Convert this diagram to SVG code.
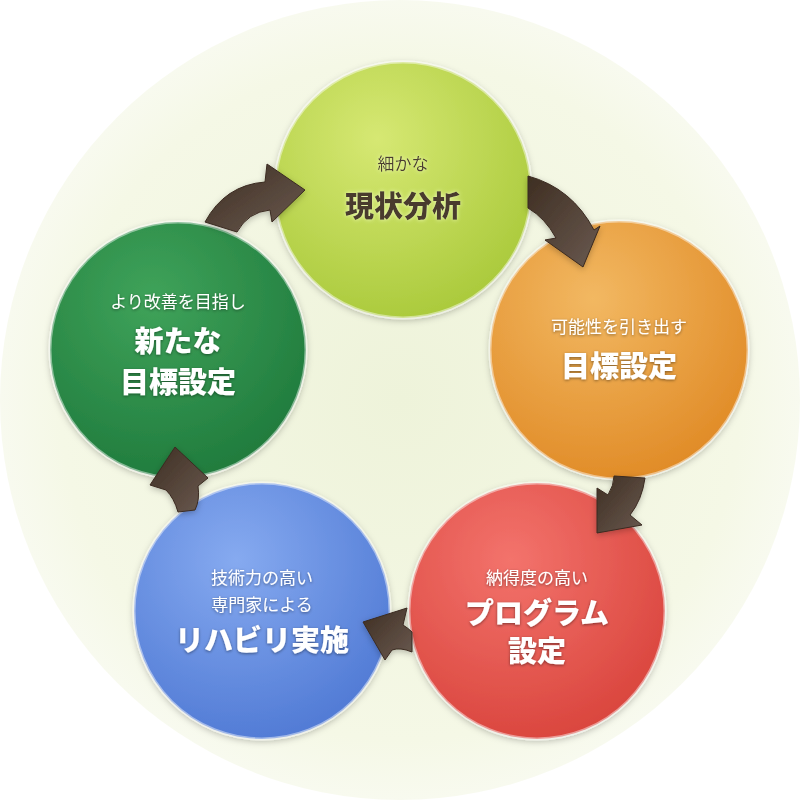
<svg xmlns="http://www.w3.org/2000/svg" width="800" height="800" viewBox="0 0 800 800">
<defs>
<radialGradient id="bg" cx="0.5" cy="0.5" r="0.5"><stop offset="0" stop-color="#eef3da"/><stop offset="0.85" stop-color="#f5f8e6"/><stop offset="1" stop-color="#f8faef"/></radialGradient>
<radialGradient id="gLime" cx="0.4" cy="0.3" r="0.75"><stop offset="0" stop-color="#d6e873"/><stop offset="1" stop-color="#a9c93a"/></radialGradient>
<radialGradient id="gOrange" cx="0.4" cy="0.3" r="0.75"><stop offset="0" stop-color="#f2b862"/><stop offset="1" stop-color="#e08a25"/></radialGradient>
<radialGradient id="gRed" cx="0.4" cy="0.3" r="0.75"><stop offset="0" stop-color="#f3736c"/><stop offset="1" stop-color="#d9443c"/></radialGradient>
<radialGradient id="gBlue" cx="0.4" cy="0.3" r="0.75"><stop offset="0" stop-color="#86aaf0"/><stop offset="1" stop-color="#4f79d4"/></radialGradient>
<radialGradient id="gGreen" cx="0.4" cy="0.3" r="0.75"><stop offset="0" stop-color="#3fa35a"/><stop offset="1" stop-color="#1f7a3c"/></radialGradient>
<linearGradient id="arr" x1="0" y1="0" x2="1" y2="1"><stop offset="0" stop-color="#3e2e22"/><stop offset="1" stop-color="#6a5a50"/></linearGradient>
<filter id="sh" x="-20%" y="-20%" width="140%" height="140%"><feDropShadow dx="0" dy="2" stdDeviation="3" flood-color="#000" flood-opacity="0.25"/></filter>
<filter id="ts" x="-10%" y="-30%" width="120%" height="160%"><feDropShadow dx="0" dy="1" stdDeviation="1.5" flood-color="#000" flood-opacity="0.45"/></filter>
<filter id="glow" x="-10%" y="-30%" width="120%" height="160%"><feDropShadow dx="0" dy="0" stdDeviation="2" flood-color="#f4ffc0" flood-opacity="0.9"/></filter>
</defs>
<style>
.c{stroke:#ffffff;stroke-opacity:0.45;stroke-width:3;filter:url(#sh)}
.t{font-family:"Noto Sans CJK JP",sans-serif;text-anchor:middle;fill:#fff;filter:url(#ts)}
.dk{fill:#4a3a2e;filter:url(#glow)}
.s{font-size:17px}
.b{font-size:29px;font-weight:900}
.a{fill:url(#arr);stroke:#3a2a20;stroke-width:1;stroke-linejoin:round;filter:url(#sh)}
</style>
<circle cx="400" cy="400" r="400" fill="url(#bg)"/>
<g id="node-analysis">
<circle class="c" cx="403" cy="190" r="128" fill="url(#gLime)"/>
<text class="t dk s" x="403" y="170">細かな</text>
<text class="t dk b" x="403" y="217">現状分析</text>
</g>
<g id="node-goal">
<circle class="c" cx="619" cy="350" r="129" fill="url(#gOrange)"/>
<text class="t s" x="619" y="333">可能性を引き出す</text>
<text class="t b" x="619" y="377">目標設定</text>
</g>
<g id="node-program">
<circle class="c" cx="537" cy="611" r="128" fill="url(#gRed)"/>
<text class="t s" x="537" y="584">納得度の高い</text>
<text class="t b" x="537" y="624">プログラム</text>
<text class="t b" x="537" y="662">設定</text>
</g>
<g id="node-rehab">
<circle class="c" cx="262" cy="611" r="128" fill="url(#gBlue)"/>
<text class="t s" x="262" y="584">技術力の高い</text>
<text class="t s" x="262" y="611">専門家による</text>
<text class="t b" x="262" y="651">リハビリ実施</text>
</g>
<g id="node-newgoal">
<circle class="c" cx="178" cy="350" r="128" fill="url(#gGreen)"/>
<text class="t s" x="178" y="308">より改善を目指し</text>
<text class="t b" x="178" y="352">新たな</text>
<text class="t b" x="178" y="393">目標設定</text>
</g>
<g id="connectors">
<path class="a" d="M528,176 Q572,188 594,230 L600,226 L583,267 L545,240 L556,238 Q545,218 528,208 Z"/>
<path class="a" d="M597,533 L597,488 L608,495 Q614,485 614,476 L645,478 Q642,500 630,515 L642,525 Z"/>
<path class="a" d="M363,622 L407,608 L403,625 Q408,628 412,632 L412,652 Q400,647 392,650 L385,660 Z"/>
<path class="a" d="M175,447 L208,478 L198,486 Q200,500 195,510 L178,512 Q174,498 166,490 L150,485 Z"/>
<path class="a" d="M305,190 L272,222 L270,210 Q248,212 237,232 L205,222 Q225,185 265,182 L267,164 Z"/>
</g>
</svg>
